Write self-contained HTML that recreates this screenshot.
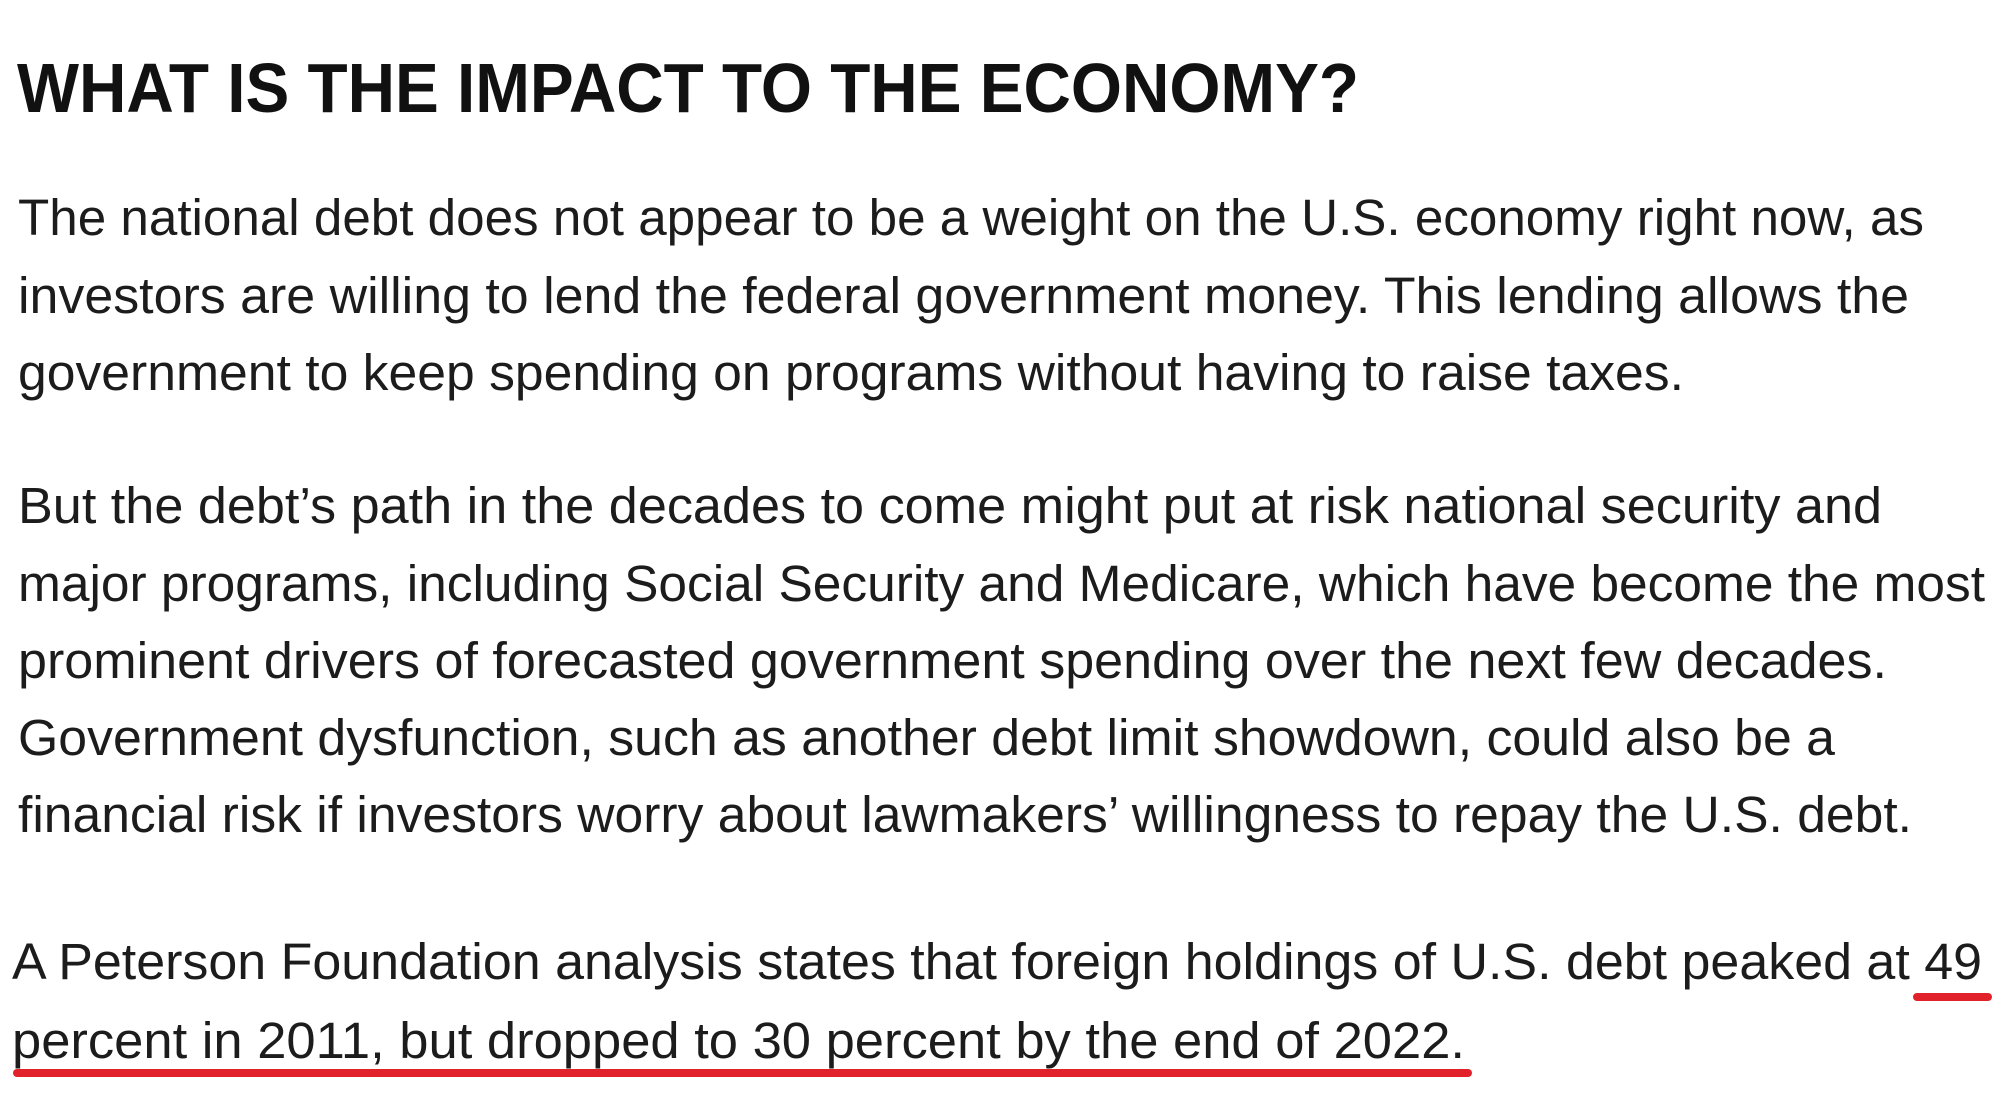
<!DOCTYPE html>
<html>
<head>
<meta charset="utf-8">
<style>
  html, body { margin: 0; padding: 0; background: #ffffff; }
  body { width: 2000px; height: 1097px; overflow: hidden; }
  svg { display: block; }
  .h { font-family: "Liberation Sans", Arial, sans-serif; font-weight: bold; font-size: 70px; fill: #111111; }
  .p { font-family: "Liberation Sans", Arial, sans-serif; font-size: 51px; fill: #1c1c1c; }
</style>
</head>
<body>
<svg width="2000" height="1097" viewBox="0 0 2000 1097" xmlns="http://www.w3.org/2000/svg">
  <rect width="2000" height="1097" fill="#ffffff"/>
  <text class="h" x="17" y="112" textLength="1342" lengthAdjust="spacingAndGlyphs">WHAT IS THE IMPACT TO THE ECONOMY?</text>

  <text class="p" x="18" y="235" textLength="1906" lengthAdjust="spacingAndGlyphs">The national debt does not appear to be a weight on the U.S. economy right now, as</text>
  <text class="p" x="18" y="313" textLength="1891" lengthAdjust="spacingAndGlyphs">investors are willing to lend the federal government money. This lending allows the</text>
  <text class="p" x="18" y="390" textLength="1666" lengthAdjust="spacingAndGlyphs">government to keep spending on programs without having to raise taxes.</text>

  <text class="p" x="18" y="523" textLength="1864" lengthAdjust="spacingAndGlyphs">But the debt’s path in the decades to come might put at risk national security and</text>
  <text class="p" x="18" y="601" textLength="1967" lengthAdjust="spacingAndGlyphs">major programs, including Social Security and Medicare, which have become the most</text>
  <text class="p" x="18" y="678" textLength="1869" lengthAdjust="spacingAndGlyphs">prominent drivers of forecasted government spending over the next few decades.</text>
  <text class="p" x="18" y="755" textLength="1817" lengthAdjust="spacingAndGlyphs">Government dysfunction, such as another debt limit showdown, could also be a</text>
  <text class="p" x="18" y="832" textLength="1894" lengthAdjust="spacingAndGlyphs">financial risk if investors worry about lawmakers’ willingness to repay the U.S. debt.</text>

  <text class="p" x="12" y="979" textLength="1970" lengthAdjust="spacingAndGlyphs">A Peterson Foundation analysis states that foreign holdings of U.S. debt peaked at 49</text>
  <text class="p" x="12" y="1058" textLength="1453" lengthAdjust="spacingAndGlyphs">percent in 2011, but dropped to 30 percent by the end of 2022.</text>

  <line x1="1917" y1="997" x2="1988" y2="997" stroke="#e2222b" stroke-width="8" stroke-linecap="round"/>
  <line x1="17" y1="1073" x2="1468" y2="1073" stroke="#e2222b" stroke-width="8" stroke-linecap="round"/>
</svg>
</body>
</html>
